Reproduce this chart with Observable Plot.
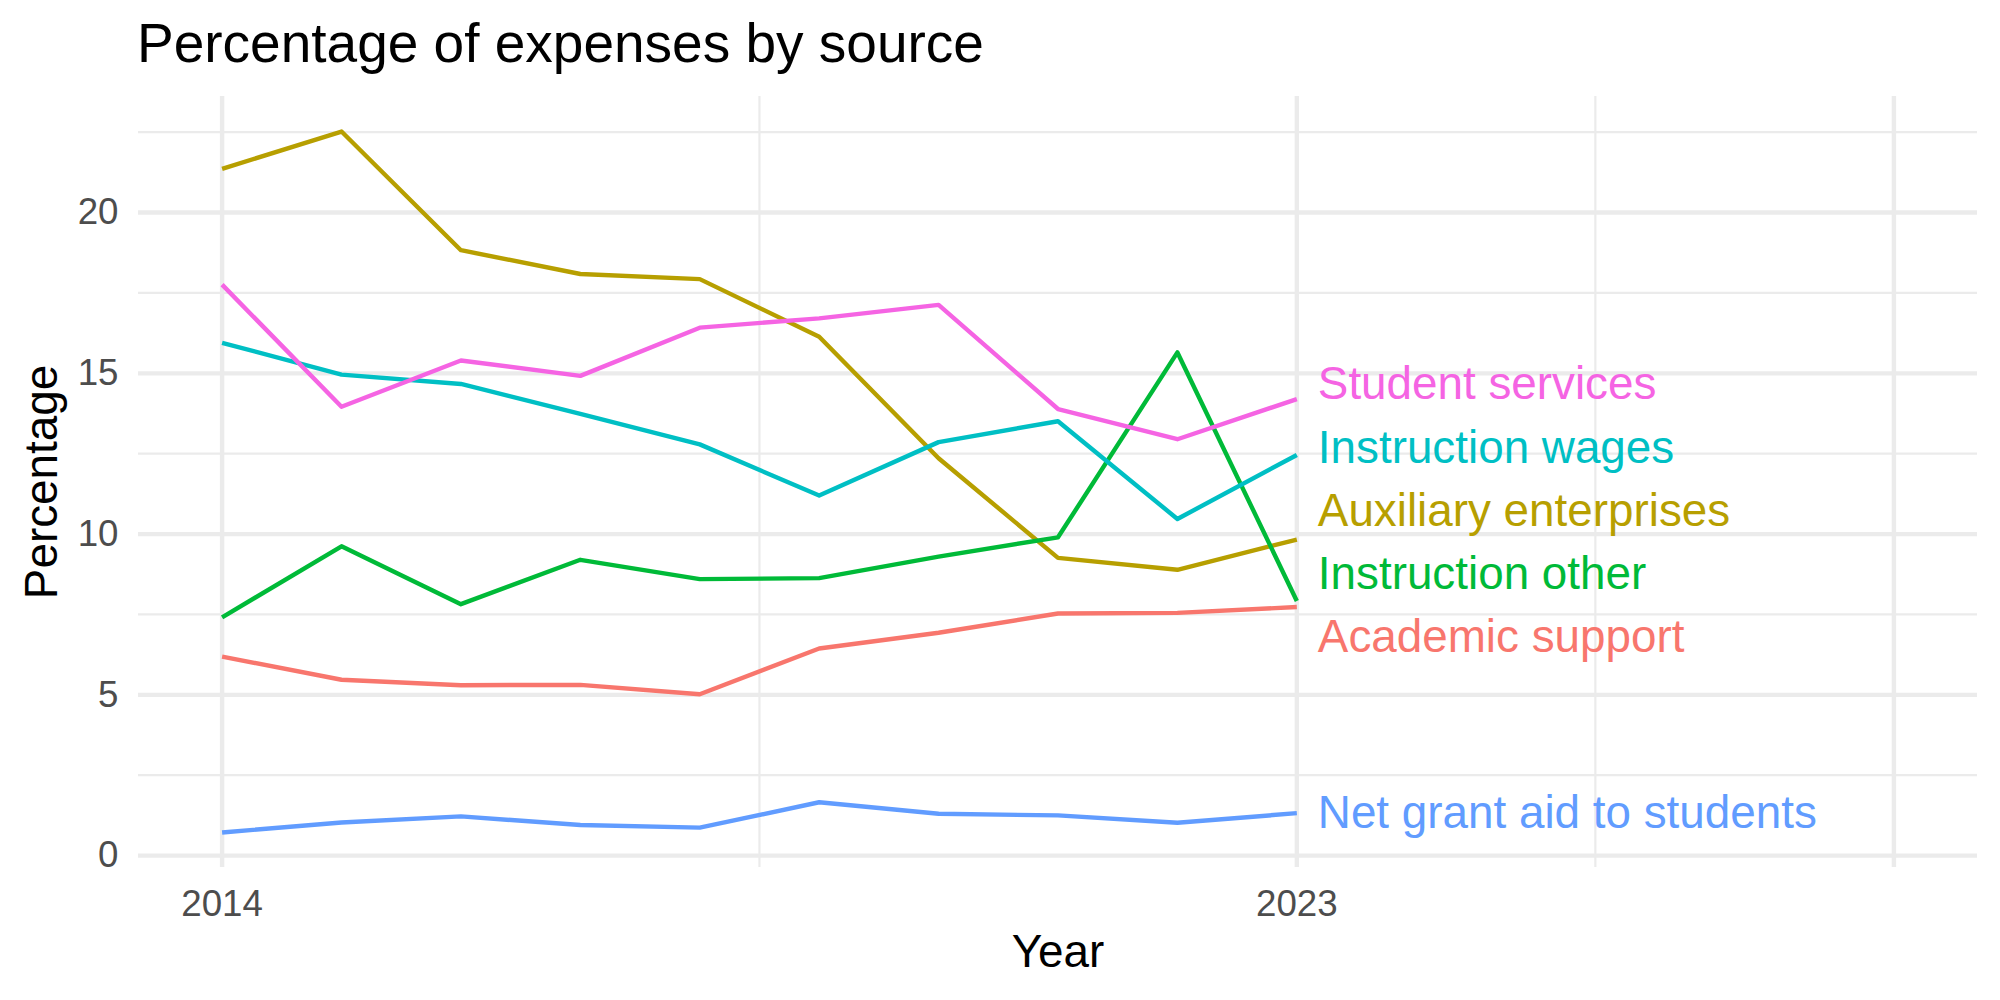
<!DOCTYPE html>
<html>
<head>
<meta charset="utf-8">
<script src="https://cdn.jsdelivr.net/npm/d3@7"></script>
<script src="https://cdn.jsdelivr.net/npm/@observablehq/plot@0.6"></script>
<style>
  html, body { margin: 0; padding: 0; background: white; }
  #wrap { width: 2000px; height: 1000px; position: relative; background: white; }
  #title { height: 74px; padding-top: 6px; line-height: 74px; padding-left: 137px;
           font-family: "Liberation Sans", Arial, sans-serif; font-size: 55px; color: #000; white-space: nowrap; }
</style>
</head>
<body>
<div id="wrap">
  <div id="title">Percentage of expenses by source</div>
  <div id="chart"></div>
</div>
<script>
// ---- Data ----
const years = [2014, 2015, 2016, 2017, 2018, 2019, 2020, 2021, 2022, 2023];
const seriesNames = ["Academic support", "Auxiliary enterprises", "Instruction other", "Instruction wages", "Net grant aid to students", "Student services"];
const academicSupport      = [6.19, 5.47, 5.30, 5.31, 5.02, 6.44, 6.93, 7.53, 7.55, 7.73];
const auxiliaryEnterprises = [21.36, 22.52, 18.83, 18.09, 17.93, 16.14, 12.36, 9.26, 8.89, 9.83];
const instructionOther     = [7.41, 9.62, 7.82, 9.20, 8.60, 8.63, 9.30, 9.90, 15.65, 7.92];
const instructionWages     = [15.95, 14.96, 14.67, 13.74, 12.79, 11.20, 12.86, 13.51, 10.47, 12.46];
const netGrantAid          = [0.72, 1.03, 1.22, 0.95, 0.87, 1.66, 1.30, 1.25, 1.02, 1.32];
const studentServices      = [17.76, 13.96, 15.40, 14.92, 16.42, 16.71, 17.13, 13.89, 12.95, 14.20];
const seriesValues = [academicSupport, auxiliaryEnterprises, instructionOther, instructionWages, netGrantAid, studentServices];
const colors = ["#F8766D", "#B79F00", "#00BA38", "#00BFC4", "#619CFF", "#F564E3"];
// label positions (repelled) at the right end
const labelYear = 2023;
const labelY = [6.78, 10.70, 8.75, 12.66, 1.30, 14.65];
// axes
const xLimits = [2014, 2028];
const xTickLabels = [2014, 2023];
const xMajor = [2014, 2023, 2028];
const xMinor = [2018.5, 2025.5];
const yMajor = [0, 5, 10, 15, 20];
const yMinor = [2.5, 7.5, 12.5, 17.5, 22.5];

// ---- Build tables ----
const data = [];
seriesNames.forEach((s, i) => years.forEach((yr, j) => data.push({series: s, year: yr, value: seriesValues[i][j]})));
const labels = seriesNames.map((s, i) => ({series: s, year: labelYear, value: labelY[i]}));

const allVals = seriesValues.flat();
const yMin = d3.min(allVals), yMax = d3.max(allVals);
const yExp = (yMax - yMin) * 0.05;
const xExp = (xLimits[1] - xLimits[0]) * 0.05;

const grid = "#EBEBEB";
const font = "'Liberation Sans', Arial, sans-serif";

const chart = Plot.plot({
  width: 2000,
  height: 920,
  marginTop: 16,
  marginBottom: 133,
  marginLeft: 138,
  marginRight: 23,
  style: {fontFamily: font, fontSize: "36.7px", background: "white", overflow: "visible"},
  x: {domain: [xLimits[0] - xExp, xLimits[1] + xExp]},
  y: {domain: [yMin - yExp, yMax + yExp]},
  color: {domain: seriesNames, range: colors},
  marks: [
    Plot.ruleY(yMinor, {stroke: grid, strokeWidth: 2.2}),
    Plot.ruleX(xMinor, {stroke: grid, strokeWidth: 2.2}),
    Plot.ruleY(yMajor, {stroke: grid, strokeWidth: 4.4}),
    Plot.ruleX(xMajor, {stroke: grid, strokeWidth: 4.4}),
    Plot.line(data, {x: "year", y: "value", z: "series", stroke: "series", strokeWidth: 4.4, strokeLinecap: "butt", strokeLinejoin: "round"}),
    Plot.text(labels, {x: "year", y: "value", text: "series", fill: "series", textAnchor: "start", dx: 21, fontSize: 45.8}),
    Plot.axisY(yMajor, {tickSize: 0, tickPadding: 20, color: "#4D4D4D", fontSize: 36.7, label: null}),
    Plot.axisX(xTickLabels, {tickSize: 0, tickPadding: 22, color: "#4D4D4D", fontSize: 36.7, tickFormat: d => String(d), label: null}),
    Plot.text(["Percentage"], {text: d => d, frameAnchor: "left", dx: -96, rotate: -90, textAnchor: "middle", lineAnchor: "middle", fontSize: 45.8, fill: "#000"}),
    Plot.text(["Year"], {text: d => d, frameAnchor: "bottom", dy: 67, lineAnchor: "top", textAnchor: "middle", fontSize: 45.8, fill: "#000"})
  ]
});
document.getElementById("chart").appendChild(chart);
</script>
</body>
</html>
